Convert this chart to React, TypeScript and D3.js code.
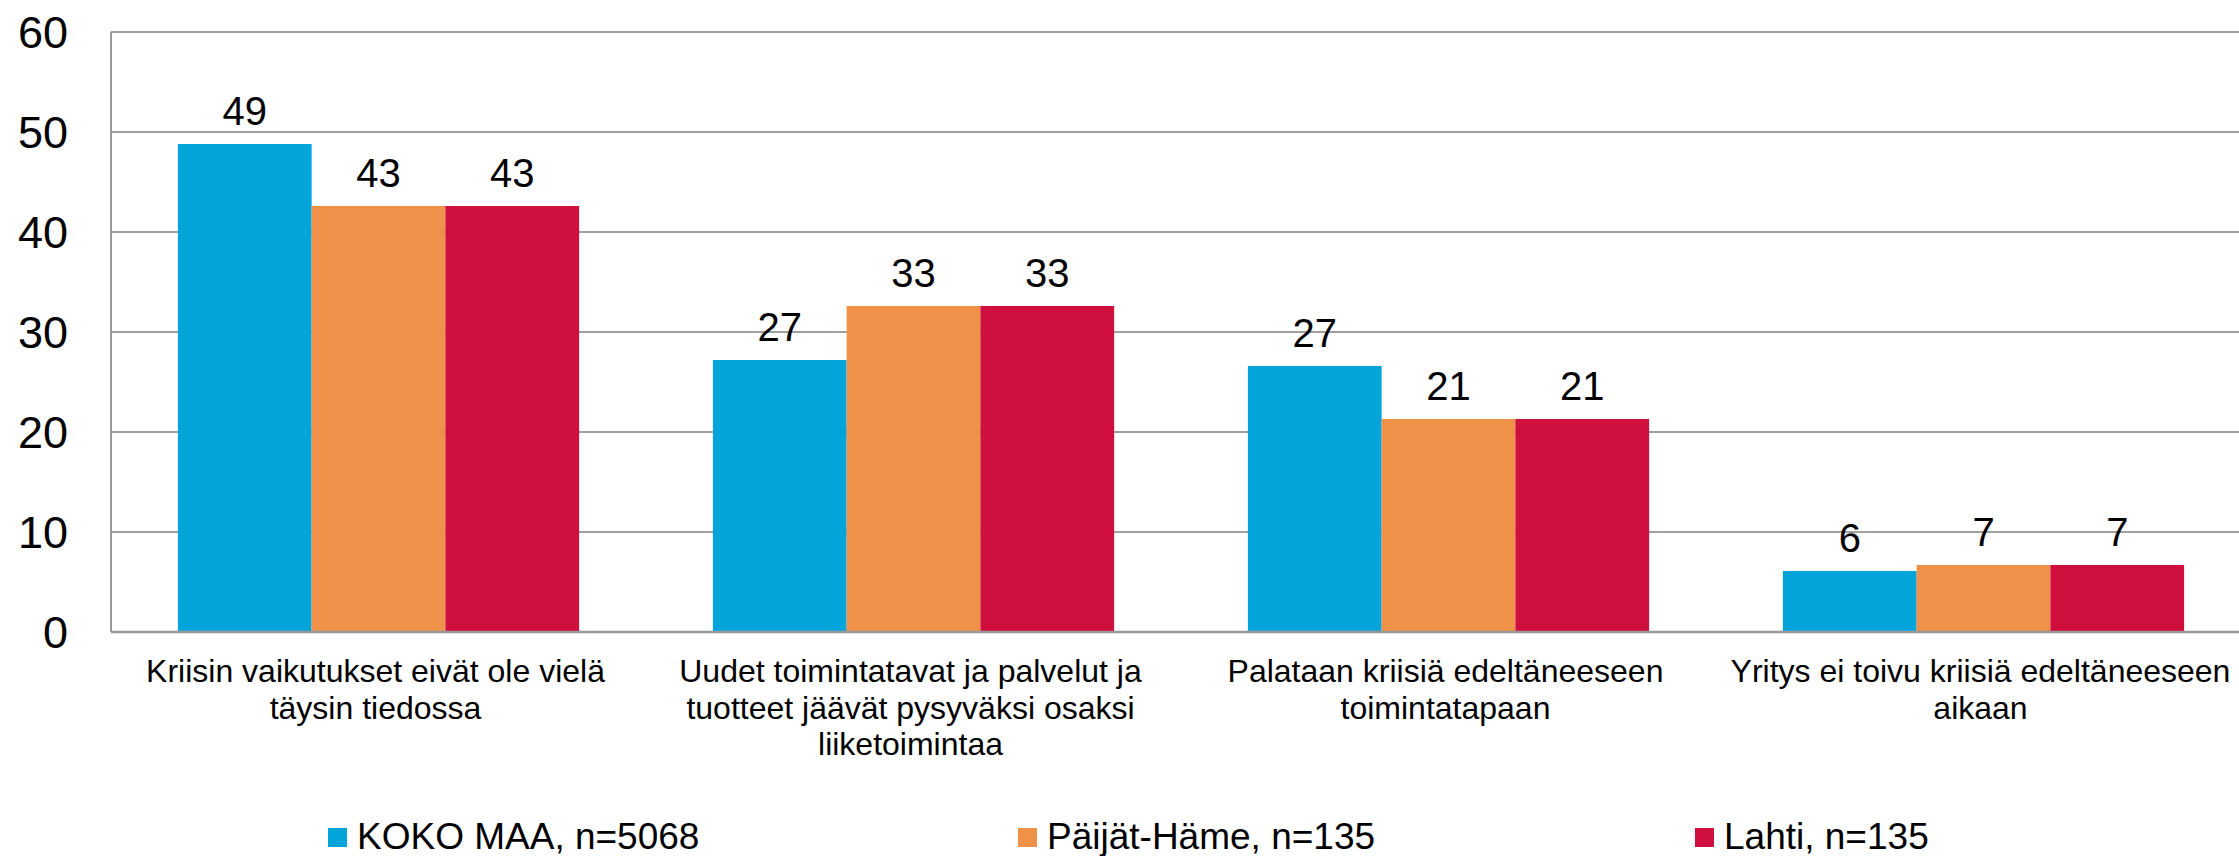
import React, { useEffect, useRef } from "react";
import * as d3 from "d3";

const categories = [
  ["Kriisin vaikutukset eivät ole vielä", "täysin tiedossa"],
  ["Uudet toimintatavat ja palvelut ja", "tuotteet jäävät pysyväksi osaksi", "liiketoimintaa"],
  ["Palataan kriisiä edeltäneeseen", "toimintatapaan"],
  ["Yritys ei toivu kriisiä edeltäneeseen", "aikaan"],
];
const seriesNames = ["KOKO MAA, n=5068", "Päijät-Häme, n=135", "Lahti, n=135"];
const kokoMaa = [48.8, 27.2, 26.6, 6.1];
const paijatHame = [42.6, 32.6, 21.3, 6.7];
const lahti = [42.6, 32.6, 21.3, 6.7];
const yTicks = [0, 10, 20, 30, 40, 50, 60];

const colors = ["#02a4d9", "#f0914a", "#cf0f3e"];

export default function App() {
  const svgRef = useRef<SVGSVGElement>(null);

  useEffect(() => {
    const w = 2239;
    const h = 856;
    const left = 111;
    const right = 2251;
    const top = 32;
    const bottom = 632;
    const font = "'Liberation Sans', Arial, sans-serif";

    const svg = d3.select(svgRef.current);
    svg.selectAll("*").remove();
    svg.attr("width", w).attr("height", h);

    const values = [kokoMaa, paijatHame, lahti];
    const catIdx = categories.map((_, i) => i);

    const x0 = d3.scaleBand<number>().domain(catIdx).range([left, right]).paddingInner(0).paddingOuter(0);
    // gap width 100%: half a bar of space on each side of the group
    const x1 = d3
      .scaleBand<number>()
      .domain([0, 1, 2])
      .range([0, x0.bandwidth()])
      .paddingInner(0)
      .paddingOuter(0.5);
    const y = d3.scaleLinear().domain([0, 60]).range([bottom, top]);

    // gridlines
    svg
      .append("g")
      .selectAll("line")
      .data(yTicks.filter((t) => t > 0))
      .join("line")
      .attr("x1", left)
      .attr("x2", w)
      .attr("y1", (d) => y(d))
      .attr("y2", (d) => y(d))
      .style("stroke", "#a0a0a0")
      .style("stroke-width", 2);

    // y tick labels
    svg
      .append("g")
      .selectAll("text")
      .data(yTicks)
      .join("text")
      .attr("x", 68)
      .attr("y", (d) => y(d))
      .attr("dy", "0.36em")
      .attr("text-anchor", "end")
      .style("font-family", font)
      .style("font-size", "45px")
      .style("fill", "#000")
      .text((d) => d);

    // bars
    values.forEach((vals, s) => {
      const g = svg.append("g");
      g.selectAll("rect")
        .data(vals)
        .join("rect")
        .attr("x", (_, i) => (x0(i) as number) + (x1(s) as number))
        .attr("y", (d) => y(d))
        .attr("width", x1.bandwidth())
        .attr("height", (d) => y(0) - y(d))
        .style("fill", colors[s]);

      g.selectAll("text")
        .data(vals)
        .join("text")
        .attr("x", (_, i) => (x0(i) as number) + (x1(s) as number) + x1.bandwidth() / 2)
        .attr("y", (d) => y(d) - 19)
        .attr("text-anchor", "middle")
        .style("font-family", font)
        .style("font-size", "40px")
        .style("fill", "#000")
        .text((d) => Math.round(d));
    });

    // axis lines
    svg
      .append("line")
      .attr("x1", left)
      .attr("x2", left)
      .attr("y1", top)
      .attr("y2", bottom)
      .style("stroke", "#999")
      .style("stroke-width", 2);
    svg
      .append("line")
      .attr("x1", left)
      .attr("x2", w)
      .attr("y1", bottom)
      .attr("y2", bottom)
      .style("stroke", "#999")
      .style("stroke-width", 2.5);

    // category labels
    const catG = svg.append("g");
    categories.forEach((lines, i) => {
      const t = catG
        .append("text")
        .attr("text-anchor", "middle")
        .style("font-family", font)
        .style("font-size", "32px")
        .style("fill", "#000");
      lines.forEach((line, k) => {
        t.append("tspan")
          .attr("x", (x0(i) as number) + x0.bandwidth() / 2 - 3)
          .attr("y", 682 + k * 36.5)
          .text(line);
      });
    });

    // legend
    const legendX = [328, 1018, 1695];
    const legend = svg.append("g");
    seriesNames.forEach((name, s) => {
      legend
        .append("rect")
        .attr("x", legendX[s])
        .attr("y", 828)
        .attr("width", 19)
        .attr("height", 19)
        .style("fill", colors[s]);
      legend
        .append("text")
        .attr("x", legendX[s] + 29)
        .attr("y", 849)
        .style("font-family", font)
        .style("font-size", "37px")
        .style("fill", "#000")
        .text(name);
    });
  }, []);

  return (
    <div>
      <svg ref={svgRef} style={{ position: "absolute", left: 0, top: 0, background: "#fff" }}></svg>
    </div>
  );
}
